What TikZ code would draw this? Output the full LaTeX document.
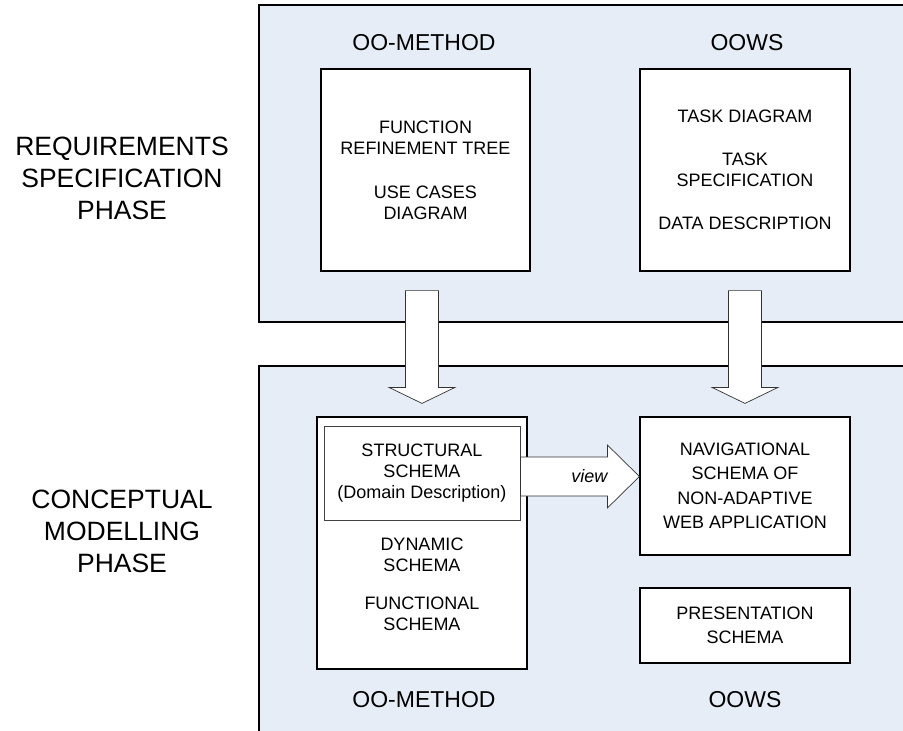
\documentclass[tikz,border=0pt]{standalone}
\usepackage{fontspec}
\setmainfont{Liberation Sans}
\usetikzlibrary{calc}
\definecolor{panelblue}{RGB}{230,237,247}
% block arrow: from, to, shaft half width, head half width, head length
\newcommand{\blockarrow}[5]{%
  \coordinate (bh) at ($(#2)!#5!(#1)$);
  \draw[fatarrow] ($(#1)!#3!90:(#2)$) -- ($(bh)!#3!-90:(#1)$) -- ($(bh)!#4!-90:(#1)$) -- (#2)
    -- ($(bh)!#4!90:(#1)$) -- ($(bh)!#3!90:(#1)$) -- ($(#1)!#3!-90:(#2)$) -- cycle;}
\begin{document}
\begin{tikzpicture}[x=1pt,y=-1pt,
    panel/.style={draw=black,line width=1.4pt,fill=panelblue},
    txt/.style={align=center,inner sep=0pt,font=\fontsize{18}{21}\selectfont},
    box/.style={txt,draw=black,line width=1.2pt,fill=white},
    fatarrow/.style={draw=black!80,line width=0.7pt,fill=white},
    phase/.style={align=center,font=\fontsize{26.5}{32}\selectfont},
    method/.style={font=\fontsize{23}{27}\selectfont}]
  \useasboundingbox (0,0) rectangle (903,731);
  \clip (0,0) rectangle (903,731);
  % phases
  \draw[panel] (259,5) rectangle (920,322);
  \draw[panel] (259,366) rectangle (920,745);
  \node[phase] (req) at (122,178) {REQUIREMENTS\\SPECIFICATION\\PHASE};
  \node[phase] (con) at (122,531) {CONCEPTUAL\\MODELLING\\PHASE};
  % requirements specification
  \node[method] (oomtop) at (424,43) {OO-METHOD};
  \node[method] (oowstop) at (747,43) {OOWS};
  \node[box,minimum width=209pt,minimum height=202pt] (frt) at (425.5,170)
    {FUNCTION\\REFINEMENT TREE\\[23pt]USE CASES\\DIAGRAM};
  \node[box,minimum width=210pt,minimum height=202pt] (task) at (745,170)
    {TASK DIAGRAM\\[22pt]TASK\\SPECIFICATION\\[22pt]DATA DESCRIPTION};
  % conceptual modelling
  \node[box,minimum width=210pt,minimum height=252pt] (oom) at (422,543) {};
  \node[box,draw=black!75,line width=1pt,minimum width=196pt,minimum height=94pt] (struct) at (422,473)
    {STRUCTURAL\\SCHEMA\\(Domain Description)};
  \node[txt] (dyn) at (422,584) {DYNAMIC\\SCHEMA\\[17pt]FUNCTIONAL\\SCHEMA};
  \node[box,minimum width=210pt,minimum height=138pt,font=\fontsize{18}{24.5}\selectfont] (nav) at (745,486)
    {NAVIGATIONAL\\SCHEMA OF\\NON-ADAPTIVE\\WEB APPLICATION};
  \node[box,minimum width=210pt,minimum height=75pt,font=\fontsize{18}{24}\selectfont] (pres) at (745,625.5)
    {PRESENTATION\\SCHEMA};
  \node[method] (oombot) at (424,700) {OO-METHOD};
  \node[method] (oowsbot) at (745,700) {OOWS};
  % arrows
  \coordinate (downA) at ($(oom.north |- frt.south)+(0,-19pt)$);
  \coordinate (tipA) at ($(oom.north)+(0,13pt)$);
  \coordinate (downB) at ($(nav.north |- task.south)+(0,-19pt)$);
  \coordinate (tipB) at ($(nav.north)+(0,13pt)$);
  \coordinate (viewstart) at ($(struct.east)+(0,-3.5pt)$);
  \coordinate (viewend) at (viewstart -| nav.west);
  \blockarrow{downA}{tipA}{16.5pt}{33pt}{16pt}
  \blockarrow{downB}{tipB}{16.5pt}{33pt}{16pt}
  \blockarrow{viewstart}{viewend}{19.5pt}{31.5pt}{32pt}
  \node[txt,font=\fontsize{18}{21}\selectfont\itshape] (viewlbl) at ($(viewstart)!0.58!(viewend)$) {view};
\end{tikzpicture}
\end{document}
